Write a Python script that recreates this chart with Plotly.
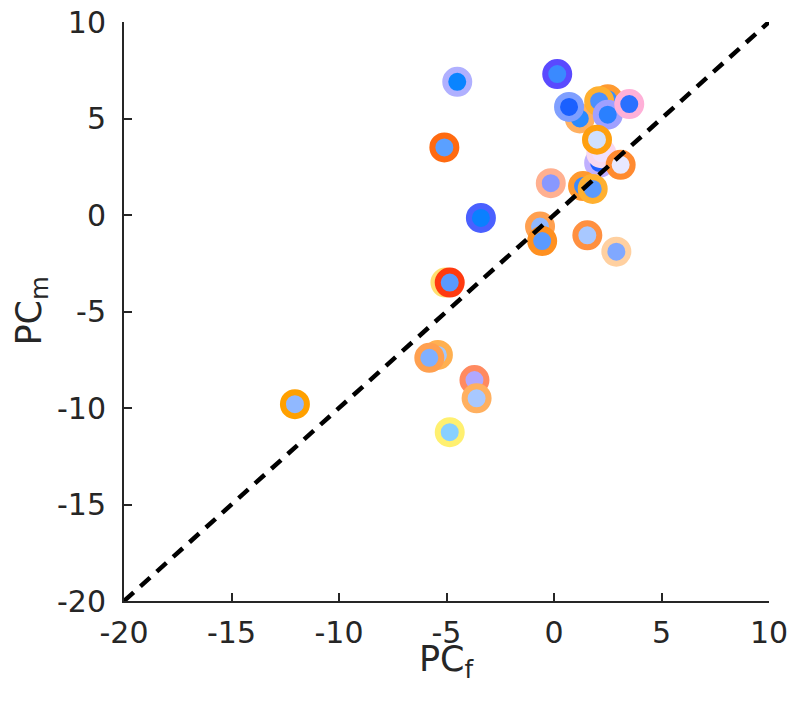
import plotly.graph_objects as go

pc_f = [-4.5, 0.15, -5.1, 1.2, 0.7, 2.5, 2.1, 2.5, 3.5, 2.1, 2.2, 3.1, 2.0,
        -0.15, 1.35, 1.8, -3.4, -0.65, -0.55, 1.55, 2.9, -5.05, -4.85,
        -12.05, -5.4, -5.8, -3.7, -3.6, -4.85]
pc_m = [6.9, 7.3, 3.5, 5.0, 5.6, 6.0, 5.9, 5.2, 5.75, 2.7, 3.2, 2.6, 3.9,
        1.65, 1.5, 1.35, -0.15, -0.6, -1.35, -1.05, -1.9, -3.5, -3.5,
        -9.8, -7.25, -7.4, -8.55, -9.5, -11.25]
edge_colors = ["#b0b0ff", "#5a4aff", "#ff6a10", "#ffb060", "#7f9fff", "#ff9a30",
               "#ffb030", "#a0a0ff", "#ffb0d8", "#c0b0ff", "#f8d8f0", "#ff8a30",
               "#ffa010", "#ffb090", "#ff9a30", "#ffb030", "#4a60ff", "#ffa050",
               "#ff9020", "#ff9040", "#ffd0a0", "#ffe070", "#ff3a10", "#ffa000",
               "#ffb050", "#ffa050", "#ff8a60", "#ffb060", "#fff070"]
fill_colors = ["#0a84ff", "#3a8aff", "#5aa0ff", "#2a8aff", "#1a60ff", "#3a90ff",
               "#4a90ff", "#2a80ff", "#2a70ff", "#2060ff", "#f0e0ff", "#e8e8ff",
               "#d0e0ff", "#8898ff", "#3a8aff", "#5a9aff", "#0a80ff", "#90b8ff",
               "#5a9aff", "#a8c8ff", "#80a8ff", "#ffe070", "#5a9aff", "#90b8ff",
               "#a0c8ff", "#80b0ff", "#b0a8ff", "#a8c8ff", "#88d0ff"]
diag = [-20, 10]
tick_vals = [-20, -15, -10, -5, 0, 5, 10]
tick_text = ["-20", "-15", "-10", "-5", "0", "5", "10"]

FONT = "DejaVu Sans"
INK = "#262626"

fig = go.Figure()
fig.add_trace(go.Scatter(
    x=pc_f, y=pc_m, mode="markers",
    marker=dict(size=24, color=fill_colors,
                line=dict(color=edge_colors, width=6), opacity=1),
    cliponaxis=False, showlegend=False))
fig.add_trace(go.Scatter(
    x=diag, y=diag, mode="lines",
    line=dict(color="black", width=4.5, dash="13px,9px"),
    showlegend=False))

axis_common = dict(
    showline=True, linecolor=INK, linewidth=2,
    ticks="inside", ticklen=8, tickwidth=2, tickcolor=INK,
    showgrid=False, zeroline=False, mirror=False, automargin=False,
    tickvals=tick_vals, ticktext=tick_text, range=[-20, 10],
    ticklabeloverflow="allow",
    tickfont=dict(family=FONT, size=30, color=INK),
)
fig.update_xaxes(ticklabelstandoff=4, **axis_common)
fig.update_yaxes(ticklabelstandoff=10, **axis_common)

fig.add_annotation(text="PC<sub>f</sub>", xref="paper", yref="paper",
                   x=0.5, y=0, yanchor="middle", yshift=-60, showarrow=False,
                   font=dict(family=FONT, size=35, color=INK))
fig.add_annotation(text="PC<sub>m</sub>", xref="paper", yref="paper",
                   x=0, y=0.5, xanchor="center", xshift=-93, yshift=0,
                   textangle=-90, showarrow=False,
                   font=dict(family=FONT, size=35, color=INK))

fig.update_layout(
    width=800, height=720,
    margin=dict(l=116, r=39, t=14, b=127),
    plot_bgcolor="white", paper_bgcolor="white",
)
fig.write_html("out.html")
